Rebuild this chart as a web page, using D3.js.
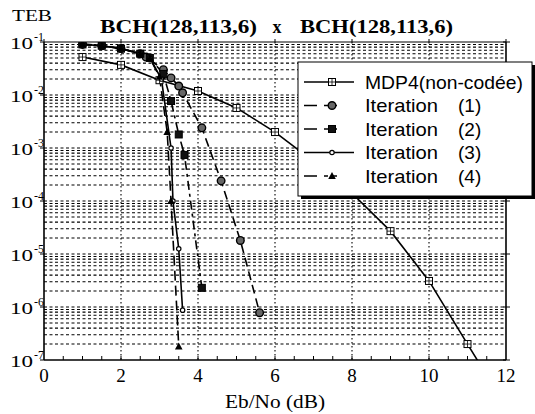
<!DOCTYPE html>
<html>
<head>
<meta charset="utf-8">
<script src="https://cdn.jsdelivr.net/npm/d3@7"></script>
<style>
  body { margin: 0; background: #fff; }
  svg { display: block; }
</style>
</head>
<body>
<div id="chart"></div>
<script>
// Eb/No (dB) vs TEB
const mdp4 = [[1, 0.052], [2, 0.037], [3, 0.019], [4, 0.0119], [5, 0.0057], [6, 0.002],
              [7, 5.6e-4], [8, 1.4e-4], [9, 2.7e-5], [10, 3.1e-6], [11, 2.0e-7], [12, 1.3e-8]]
const iter1 = [[1, 0.09], [1.5, 0.085], [2, 0.075], [2.5, 0.06], [2.65, 0.052], [3.1, 0.03],
               [3.3, 0.021], [3.5, 0.0148], [3.6, 0.011], [4.1, 2.4e-3], [4.6, 2.4e-4],
               [5.1, 1.8e-5], [5.6, 7.8e-7]]
const iter2 = [[1, 0.09], [1.5, 0.085], [2, 0.075], [2.5, 0.06], [2.75, 0.05], [3.1, 0.025],
               [3.3, 7.7e-3], [3.5, 1.8e-3], [3.65, 7.4e-4], [4.1, 2.3e-6]]
const iter3 = [[1, 0.09], [1.5, 0.085], [2, 0.075], [2.5, 0.06], [2.75, 0.05], [3.05, 0.02],
               [3.3, 1e-3], [3.35, 1e-4], [3.5, 1.25e-5], [3.6, 8.7e-7]]
const iter4 = [[1, 0.092], [1.5, 0.086], [2, 0.076], [2.5, 0.06], [2.75, 0.05], [3.0, 0.022],
               [3.2, 2e-3], [3.3, 1e-4], [3.5, 1.8e-7]]

const legendNames = ['MDP4(non-codée)', 'Iteration', 'Iteration', 'Iteration', 'Iteration']
const legendNums = ['', '(1)', '(2)', '(3)', '(4)']
const xTicks = [0, 2, 4, 6, 8, 10, 12]
const yExps = [-1, -2, -3, -4, -5, -6, -7]

const W = 535, H = 414
const pl = 44, pr = 506, pt = 42, pb = 360

const svg = d3.select('#chart').append('svg').attr('width', W).attr('height', H)

const x = d3.scaleLinear().domain([0, 12]).range([pl, pr])
const y = d3.scaleLog().domain([1e-7, 1e-1]).range([pb, pt])

svg.append('defs').append('clipPath').attr('id', 'plot')
  .append('rect').attr('x', pl).attr('y', pt).attr('width', pr - pl).attr('height', pb - pt)

// grid
const grid = svg.append('g').attr('stroke', '#000')
let hVals = []
for (let e = -7; e < -1; e++) {
  for (let m = 1; m <= 9; m++) hVals.push(m * Math.pow(10, e))
}
grid.selectAll('.h').data(hVals.filter(v => v > 1e-7)).enter().append('line')
  .attr('x1', pl).attr('x2', pr)
  .attr('y1', d => y(d)).attr('y2', d => y(d))
  .attr('stroke-width', 1.1)
  .attr('stroke-dasharray', '3,2.5')
grid.selectAll('.v').data([2, 4, 6, 8, 10]).enter().append('line')
  .attr('x1', d => x(d)).attr('x2', d => x(d))
  .attr('y1', pt).attr('y2', pb)
  .attr('stroke-width', 1.1)
  .attr('stroke-dasharray', '1.5,2.5')

// frame
const frame = svg.append('g').attr('stroke', '#000').attr('fill', 'none')
frame.append('line').attr('x1', pl).attr('x2', pl).attr('y1', pt).attr('y2', pb).attr('stroke-width', 1.6)
frame.append('line').attr('x1', pl).attr('x2', pr).attr('y1', pb).attr('y2', pb).attr('stroke-width', 1.6)
frame.append('line').attr('x1', pl).attr('x2', pr).attr('y1', pt).attr('y2', pt).attr('stroke-width', 1.2)
frame.append('line').attr('x1', pr).attr('x2', pr).attr('y1', pt).attr('y2', pb).attr('stroke-width', 1.6)

// x ticks
frame.selectAll('.xt').data(d3.range(0.5, 12, 0.5)).enter().append('line')
  .attr('x1', d => x(d)).attr('x2', d => x(d))
  .attr('y1', pb).attr('y2', pb - 4)
frame.selectAll('.xtt').data(xTicks).enter().append('line')
  .attr('x1', d => x(d)).attr('x2', d => x(d))
  .attr('y1', pt - 3).attr('y2', pt)
svg.selectAll('.xl').data(xTicks).enter().append('text')
  .attr('x', d => x(d)).attr('y', 382)
  .attr('text-anchor', 'middle')
  .style('font', '19px "Liberation Serif", serif')
  .text(d => d)

// y ticks
frame.selectAll('.yt').data(yExps).enter().append('line')
  .attr('x1', pl - 4).attr('x2', pl)
  .attr('y1', d => y(Math.pow(10, d))).attr('y2', d => y(Math.pow(10, d)))
frame.selectAll('.ytr').data(yExps).enter().append('line')
  .attr('x1', pr - 3).attr('x2', pr + 4)
  .attr('y1', d => y(Math.pow(10, d))).attr('y2', d => y(Math.pow(10, d)))
const yl = svg.selectAll('.yl').data(yExps).enter().append('g')
yl.append('text')
  .attr('x', 10).attr('y', d => y(Math.pow(10, d)) + 7)
  .attr('textLength', 23).attr('lengthAdjust', 'spacingAndGlyphs')
  .style('font', '17px "Liberation Serif", serif')
  .text('10')
yl.append('text')
  .attr('x', 34).attr('y', d => y(Math.pow(10, d)) - 1)
  .style('font', '12px "Liberation Serif", serif')
  .text(d => '-' + (-d))

// titles
svg.append('text').attr('x', 12).attr('y', 21)
  .attr('textLength', 40).attr('lengthAdjust', 'spacingAndGlyphs')
  .style('font', '17px "Liberation Serif", serif').text('TEB')
svg.append('text').attr('x', 100).attr('y', 33)
  .attr('textLength', 157).attr('lengthAdjust', 'spacingAndGlyphs')
  .style('font', 'bold 18px "Liberation Serif", serif').text('BCH(128,113,6)')
svg.append('text').attr('x', 277).attr('y', 33).attr('text-anchor', 'middle')
  .style('font', 'bold 18px "Liberation Serif", serif').text('x')
svg.append('text').attr('x', 300).attr('y', 33)
  .attr('textLength', 153).attr('lengthAdjust', 'spacingAndGlyphs')
  .style('font', 'bold 18px "Liberation Serif", serif').text('BCH(128,113,6)')
svg.append('text').attr('x', 225).attr('y', 408)
  .attr('textLength', 100).attr('lengthAdjust', 'spacingAndGlyphs')
  .style('font', '19px "Liberation Serif", serif').text('Eb/No (dB)')

// series
const series = [
  { data: mdp4, dash: null, marker: 'sq' },
  { data: iter1, dash: '9,5', marker: 'circ' },
  { data: iter2, dash: '9,4,3,4', marker: 'fsq' },
  { data: iter3, dash: null, marker: 'dot' },
  { data: iter4, dash: '10,5', marker: 'tri' }
]

const line = d3.line().x(d => x(d[0])).y(d => y(d[1]))

function drawMarker(g, type, cx, cy) {
  if (type === 'sq') {
    g.append('rect').attr('x', cx - 3.5).attr('y', cy - 3.5).attr('width', 7).attr('height', 7)
      .attr('fill', '#fff').attr('stroke', '#000').attr('stroke-width', 1)
    g.append('path').attr('d', `M${cx - 3.5},${cy}H${cx + 3.5}M${cx},${cy - 3.5}V${cy + 3.5}`)
      .attr('stroke', '#000').attr('stroke-width', 0.8)
  } else if (type === 'circ') {
    g.append('circle').attr('cx', cx).attr('cy', cy).attr('r', 3.8)
      .attr('fill', '#666').attr('stroke', '#000').attr('stroke-width', 1.4)
  } else if (type === 'fsq') {
    g.append('rect').attr('x', cx - 3.5).attr('y', cy - 3.5).attr('width', 7).attr('height', 7)
      .attr('fill', '#111').attr('stroke', '#000')
  } else if (type === 'dot') {
    g.append('circle').attr('cx', cx).attr('cy', cy).attr('r', 2.2)
      .attr('fill', '#fff').attr('stroke', '#000').attr('stroke-width', 1.2)
  } else if (type === 'tri') {
    g.append('path').attr('d', `M${cx},${cy - 4}L${cx + 3.8},${cy + 3}L${cx - 3.8},${cy + 3}Z`)
      .attr('fill', '#000')
  }
}

const plot = svg.append('g').attr('clip-path', 'url(#plot)')
series.forEach(s => {
  plot.append('path').datum(s.data)
    .attr('d', line)
    .attr('fill', 'none')
    .attr('stroke', '#000')
    .attr('stroke-width', 1.6)
    .attr('stroke-dasharray', s.dash)
})
series.forEach(s => {
  const g = plot.append('g')
  s.data.forEach(d => drawMarker(g, s.marker, x(d[0]), y(d[1])))
})

// legend
const lg = svg.append('g')
lg.append('rect').attr('x', 301).attr('y', 65).attr('width', 234).attr('height', 134).attr('fill', '#000')
lg.append('rect').attr('x', 298).attr('y', 62).attr('width', 234).attr('height', 134)
  .attr('fill', '#fff').attr('stroke', '#000').attr('stroke-width', 1)
legendNames.forEach((lab, i) => {
  const ly = 82 + i * 23.5
  const s = series[i]
  lg.append('line').attr('x1', 304).attr('x2', 354).attr('y1', ly).attr('y2', ly)
    .attr('stroke', '#000').attr('stroke-width', 1.5)
    .attr('stroke-dasharray', s.dash ? '13,7,4,5,4,20' : null)
  drawMarker(lg, s.marker, 332, ly)
  lg.append('text').attr('x', 365).attr('y', ly + 6.5)
    .attr('textLength', i === 0 ? 158 : 73).attr('lengthAdjust', 'spacingAndGlyphs')
    .style('font', '19px "Liberation Sans", Arial, sans-serif')
    .text(lab)
  if (legendNums[i]) {
    lg.append('text').attr('x', 458).attr('y', ly + 6.5)
      .style('font', '19px "Liberation Sans", Arial, sans-serif')
      .text(legendNums[i])
  }
})
</script>
</body>
</html>
